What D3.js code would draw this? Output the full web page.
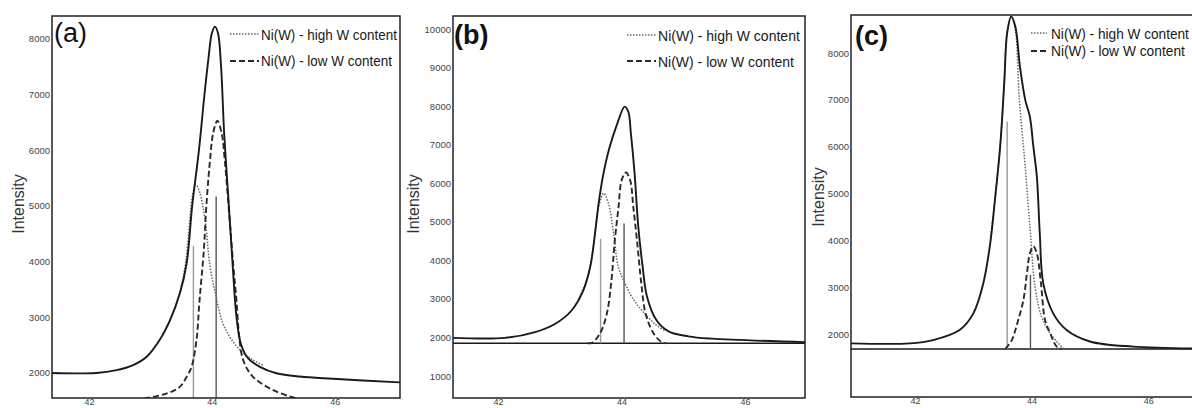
<!DOCTYPE html>
<html>
<head>
<meta charset="utf-8">
<script src="https://cdn.jsdelivr.net/npm/d3@7"></script>
<style>
  html, body { margin: 0; padding: 0; background: #fff; }
  svg { display: block; }
  text { font-family: "Liberation Sans", Arial, sans-serif; }
</style>
</head>
<body>
<svg id="chart" width="1192" height="408"></svg>
<script>
// 2θ tick labels shared by the three panels
const xTicks = [42, 44, 46];

// Intensity tick labels
const yTicksA = [2000, 3000, 4000, 5000, 6000, 7000, 8000];
const yTicksB = [1000, 2000, 3000, 4000, 5000, 6000, 7000, 8000, 9000, 10000];
const yTicksC = [2000, 3000, 4000, 5000, 6000, 7000, 8000];

// Panel (a): measured profile and the two Ni(W) components, [2θ, intensity]
const envelopeA = [[41.40,2000],[42.12,2000],[42.45,2050],[42.72,2140],[42.94,2290],[43.15,2590],[43.32,2950],[43.48,3430],[43.59,3970],[43.68,5000],[43.79,6000],[43.88,7000],[43.95,7700],[44.00,8100],[44.05,8220],[44.10,8100],[44.15,7500],[44.20,6300],[44.27,5110],[44.34,3910],[44.40,3010],[44.47,2530],[44.59,2260],[44.78,2110],[45.05,1995],[45.43,1935],[45.97,1895],[47.06,1830]];
const highWA = [[43.20,2700],[43.35,3020],[43.48,3460],[43.57,3950],[43.63,4600],[43.68,5150],[43.74,5380],[43.80,5250],[43.89,4750],[43.97,3910],[44.07,3370],[44.16,2950],[44.29,2650],[44.46,2410],[44.67,2230],[44.83,2140]];
const lowWA = [[42.90,1540],[43.26,1630],[43.48,1750],[43.60,1950],[43.67,2110],[43.75,2590],[43.80,3310],[43.87,4210],[43.91,4990],[43.97,5820],[44.02,6300],[44.09,6530],[44.16,6300],[44.21,5820],[44.29,4750],[44.35,3910],[44.40,3310],[44.44,2710],[44.51,2230],[44.67,1930],[45.00,1690],[45.32,1560],[45.40,1540]];
const sticksA = [[43.70,4280],[44.07,5170]];
const baselineA = 1550;

// Panel (b)
const envelopeB = [[41.27,1990],[42.11,1990],[42.60,2140],[42.92,2350],[43.19,2700],[43.38,3220],[43.50,3900],[43.57,4700],[43.63,5500],[43.70,6200],[43.80,6900],[43.93,7550],[44.05,7990],[44.11,7850],[44.15,7300],[44.21,6270],[44.27,4880],[44.34,3850],[44.41,3070],[44.56,2460],[44.76,2160],[45.08,2030],[45.46,1970],[46.97,1880]];
const highWB = [[43.30,2990],[43.45,3550],[43.55,4450],[43.63,5400],[43.71,5740],[43.79,5460],[43.87,4690],[43.95,3820],[44.06,3390],[44.17,3040],[44.33,2700],[44.54,2350],[44.70,2180]];
const lowWB = [[43.45,1850],[43.52,1860],[43.65,2100],[43.76,2610],[43.83,3390],[43.89,4510],[43.95,5380],[44.00,6070],[44.07,6280],[44.14,6070],[44.19,5380],[44.25,4510],[44.32,3390],[44.39,2610],[44.52,2100],[44.65,1880],[44.72,1850]];
const sticksB = [[43.66,4560],[44.04,4960]];
const baselineB = 1850;

// Panel (c)
const envelopeC = [[40.90,1800],[41.91,1800],[42.31,1870],[42.77,2090],[43.00,2440],[43.17,3080],[43.29,3940],[43.37,4860],[43.46,6000],[43.53,7360],[43.58,8430],[43.65,8780],[43.72,8570],[43.80,7710],[43.89,7000],[43.97,6640],[44.03,6000],[44.09,5360],[44.14,4150],[44.20,3080],[44.37,2440],[44.60,2085],[45.00,1840],[45.74,1730],[46.89,1690]];
const highWC = [[43.30,4100],[43.37,4860],[43.46,6000],[43.53,7360],[43.58,8430],[43.65,8780],[43.72,8500],[43.79,7000],[43.89,5570],[43.98,4150],[44.06,2990],[44.17,2370],[44.32,2010],[44.46,1800],[44.55,1690]];
const lowWC = [[43.55,1680],[43.66,1870],[43.77,2300],[43.86,2730],[43.92,3300],[43.97,3720],[44.03,3870],[44.09,3720],[44.16,3080],[44.23,2300],[44.32,2010],[44.43,1730],[44.52,1680]];
const sticksC = [[43.58,6540],[43.98,3260]];
const baselineC = 1680;

// Legend entries and panel tags
const legendLabels = ["Ni(W) - high W content", "Ni(W) - low W content"];
const panelTags = ["(a)", "(b)", "(c)"];

const panels = [
  { tag: panelTags[0], bold: false, box: {x0: 52, x1: 400, y0: 16, y1: 398}, xDom: [41.40, 47.06], yDom: [1550, 8410],
    yTicks: yTicksA, envelope: envelopeA, high: highWA, low: lowWA, sticks: sticksA, base: baselineA, drawBase: false,
    tagPos: [54, 42], labelPos: [18, 204],
    legend: { x0: 230, x1: 259, tx: 261, rows: [34, 61], base: [40, 66], len: [136, 131] } },
  { tag: panelTags[1], bold: true, box: {x0: 453, x1: 805, y0: 16, y1: 398}, xDom: [41.27, 46.97], yDom: [430, 10340],
    yTicks: yTicksB, envelope: envelopeB, high: highWB, low: lowWB, sticks: sticksB, base: baselineB, drawBase: true,
    tagPos: [454, 44], labelPos: [413, 204],
    legend: { x0: 627, x1: 656, tx: 658, rows: [35, 61], base: [41, 67], len: [142, 136] } },
  { tag: panelTags[2], bold: true, box: {x0: 851, x1: 1200, y0: 15, y1: 397}, xDom: [40.90, 46.89], yDom: [654, 8812],
    yTicks: yTicksC, envelope: envelopeC, high: highWC, low: lowWC, sticks: sticksC, base: baselineC, drawBase: true,
    tagPos: [855, 45], labelPos: [818, 197],
    legend: { x0: 1031, x1: 1047, tx: 1051, rows: [33, 51], base: [39, 56], len: [138, 134] } }
];

const svg = d3.select("#chart");

const styles = {
  envelope: { stroke: "#1a1a1a", width: 1.9, dash: null },
  high: { stroke: "#666", width: 1.5, dash: "1.5,1.5" },
  low: { stroke: "#2a2a2a", width: 1.9, dash: "6,3" }
};
const stickColors = ["#9a9a9a", "#555"];

panels.forEach((p, i) => {
  const x = d3.scaleLinear().domain(p.xDom).range([p.box.x0, p.box.x1]);
  const y = d3.scaleLinear().domain(p.yDom).range([p.box.y1, p.box.y0]);
  const g = svg.append("g");
  const clipId = "clip" + i;
  svg.append("defs").append("clipPath").attr("id", clipId)
    .append("rect").attr("x", p.box.x0).attr("y", p.box.y0)
    .attr("width", p.box.x1 - p.box.x0).attr("height", p.box.y1 - p.box.y0);

  const plot = g.append("g").attr("clip-path", `url(#${clipId})`);

  // horizontal background baseline
  if (p.drawBase) {
    plot.append("line")
      .attr("x1", x(p.xDom[0])).attr("x2", x(p.xDom[1]))
      .attr("y1", y(p.base)).attr("y2", y(p.base))
      .attr("stroke", "#1a1a1a").attr("stroke-width", 1.6);
  }

  // reference sticks
  plot.selectAll("line.stick").data(p.sticks).join("line")
    .attr("class", "stick")
    .attr("x1", d => x(d[0])).attr("x2", d => x(d[0]))
    .attr("y1", y(p.base)).attr("y2", d => y(d[1]))
    .attr("stroke", (d, k) => stickColors[k]).attr("stroke-width", 1.4);

  const line = d3.line().x(d => x(d[0])).y(d => y(d[1])).curve(d3.curveCatmullRom.alpha(0.5));

  [["high", p.high], ["low", p.low], ["envelope", p.envelope]].forEach(([key, data]) => {
    const s = styles[key];
    plot.append("path").datum(data)
      .attr("d", line)
      .attr("fill", "none")
      .attr("stroke", s.stroke)
      .attr("stroke-width", s.width)
      .attr("stroke-dasharray", s.dash)
      .attr("stroke-linejoin", "round");
  });

  // frame
  g.append("rect")
    .attr("x", p.box.x0).attr("y", p.box.y0)
    .attr("width", p.box.x1 - p.box.x0).attr("height", p.box.y1 - p.box.y0)
    .attr("fill", "none").attr("stroke", "#222").attr("stroke-width", 1.5);

  // axes (labels only, no tick marks)
  const yAxis = d3.axisLeft(y).tickValues(p.yTicks).tickSize(0).tickPadding(2).tickFormat(d3.format("d"));
  const ya = g.append("g").attr("transform", `translate(${p.box.x0},0)`).call(yAxis);
  ya.select(".domain").remove();
  ya.selectAll("text").attr("font-size", 9.5).attr("fill", "#444")
    .attr("font-family", "'Liberation Sans', Arial, sans-serif");

  const xAxis = d3.axisBottom(x).tickValues(xTicks).tickSize(0).tickPadding(1).tickFormat(d3.format("d"));
  const xa = g.append("g").attr("transform", `translate(0,${p.box.y1})`).call(xAxis);
  xa.select(".domain").remove();
  xa.selectAll("text").attr("font-size", 9).attr("fill", "#444")
    .attr("font-family", "'Liberation Sans', Arial, sans-serif");

  // axis title
  g.append("text")
    .attr("transform", `translate(${p.labelPos[0]},${p.labelPos[1]}) rotate(-90)`)
    .attr("text-anchor", "middle").attr("dominant-baseline", "central")
    .attr("font-size", 16).attr("fill", "#333")
    .text("Intensity");

  // panel tag
  g.append("text")
    .attr("x", p.tagPos[0]).attr("y", p.tagPos[1])
    .attr("font-size", 27).attr("font-weight", p.bold ? "bold" : "normal")
    .attr("fill", "#111")
    .text(p.tag);

  // legend: condensed text, squeezed horizontally to the wanted width
  const L = p.legend;
  ["high", "low"].forEach((key, k) => {
    const s = styles[key];
    g.append("line")
      .attr("x1", L.x0).attr("x2", L.x1).attr("y1", L.rows[k]).attr("y2", L.rows[k])
      .attr("stroke", s.stroke).attr("stroke-width", s.width).attr("stroke-dasharray", s.dash);
    const t = g.append("text")
      .attr("x", 0).attr("y", 0)
      .attr("font-size", 15).attr("fill", "#1a1a1a")
      .text(legendLabels[k]);
    const natural = t.node().getComputedTextLength();
    t.attr("transform", `translate(${L.tx},${L.base[k]}) scale(${L.len[k] / natural},1)`);
  });
});
</script>
</body>
</html>
